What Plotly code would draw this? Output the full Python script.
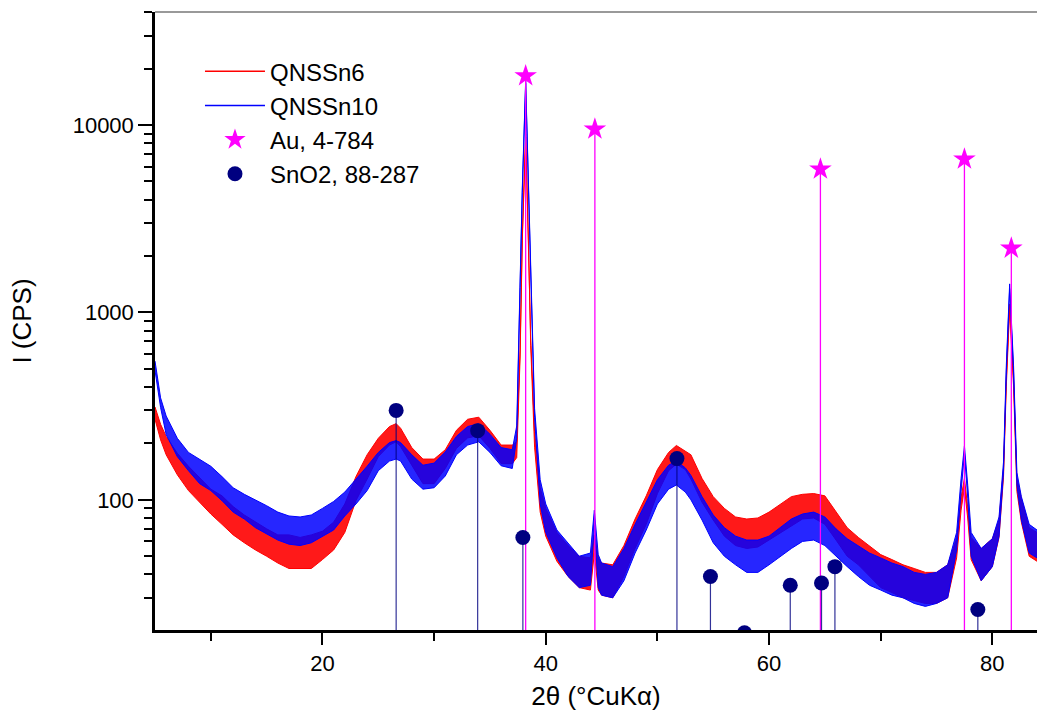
import math
import plotly.graph_objects as go

# ---- data ----
two_theta = [5.0, 5.5, 6.0, 7.0, 8.0, 9.0, 10.0, 11.0, 12.0, 13.0, 14.0, 15.0, 16.0, 17.0, 18.0,
             19.0, 20.0, 21.0, 22.0, 23.0, 24.0, 25.0, 26.0, 26.6, 27.0, 28.0, 29.0, 30.0, 31.0,
             32.0, 33.0, 34.0, 35.0, 36.0, 37.0, 37.4, 37.7, 37.9, 38.2, 38.45, 38.65, 39.0, 39.5,
             40.0, 41.0, 42.0, 43.0, 44.0, 44.35, 44.7, 45.0, 46.0, 47.0, 48.0, 49.0, 50.0, 51.0,
             51.7, 52.5, 53.0, 54.0, 55.0, 56.0, 57.0, 58.0, 59.0, 60.0, 61.0, 62.0, 63.0, 64.0,
             65.0, 66.0, 67.0, 68.0, 69.0, 70.0, 71.0, 72.0, 73.0, 74.0, 75.0, 76.0, 76.8, 77.2,
             77.5, 77.8, 78.1, 79.0, 80.0, 80.6, 81.0, 81.25, 81.55, 81.9, 82.2, 82.6, 83.3, 84.0]

# QNSSn6 (red): lower / upper edge of the noisy trace band
sn6_low = [269, 209, 174, 136, 112, 97, 84, 74, 65, 59, 54, 50, 46, 43, 43,
           43, 48, 54, 67, 99, 129, 170, 196, 204, 192, 152, 122, 122, 147,
           188, 214, 220, 188, 156, 156, 168, 571, 2430, 8630, 2430, 667, 191, 86,
           64, 47, 39, 34, 33, 52, 33, 31, 30, 39, 55, 74, 108, 143,
           155, 145, 129, 97, 78, 64, 57, 55, 56, 61, 67, 73, 79, 80,
           74, 61, 50, 45, 39, 34, 32, 30, 29, 28, 28, 30, 49, 88,
           116, 79, 48, 37, 44, 63, 132, 404, 1050, 404, 111, 76, 50, 47]
sn6_high = [313, 253, 218, 177, 151, 131, 114, 105, 92, 83, 76, 70, 65, 65, 63,
            65, 68, 76, 95, 133, 174, 213, 246, 255, 241, 190, 165, 165, 185,
            235, 269, 276, 235, 196, 196, 204, 630, 2580, 8980, 2580, 735, 231, 116,
            90, 67, 57, 50, 49, 65, 49, 46, 45, 57, 79, 105, 145, 179,
            195, 181, 174, 130, 104, 90, 81, 79, 80, 86, 95, 104, 107, 108,
            105, 86, 71, 63, 57, 51, 48, 45, 43, 41, 41, 45, 62, 103,
            130, 92, 63, 55, 62, 78, 148, 437, 1110, 437, 130, 102, 71, 67]

# QNSSn10 (blue)
sn10_low = [490, 311, 223, 170, 143, 122, 112, 99, 86, 79, 71, 66, 61, 58, 57,
            59, 64, 69, 82, 95, 112, 143, 161, 165, 161, 129, 114, 116, 134,
            174, 196, 204, 179, 152, 147, 213, 1360, 4370, 16700, 4370, 1410, 274, 95,
            67, 49, 39, 34, 35, 73, 34, 31, 30, 37, 52, 69, 95, 114,
            120, 110, 100, 78, 59, 50, 45, 41, 41, 45, 50, 55, 60, 61,
            57, 50, 44, 39, 35, 33, 31, 30, 28, 27, 28, 30, 54, 111,
            176, 102, 50, 37, 44, 64, 141, 480, 1340, 480, 120, 78, 52, 49]
sn10_high = [550, 350, 280, 213, 179, 165, 151, 133, 116, 107, 100, 93, 86, 82, 81,
             83, 90, 98, 110, 128, 151, 179, 202, 207, 202, 174, 153, 157, 180,
             218, 246, 255, 224, 190, 185, 248, 1440, 4630, 17300, 4630, 1490, 307, 128,
             95, 69, 59, 50, 52, 88, 51, 46, 44, 55, 74, 98, 128, 153,
             161, 148, 135, 104, 83, 71, 64, 61, 61, 64, 71, 79, 84, 86,
             81, 70, 62, 57, 52, 49, 46, 44, 41, 40, 41, 45, 67, 130,
             194, 119, 67, 55, 62, 81, 159, 520, 1420, 520, 140, 104, 74, 69]

# reference patterns
au_pos = [38.2, 44.4, 64.6, 77.5, 81.7]
au_int = [18300, 9500, 5820, 6580, 2200]
sno2_pos = [26.6, 33.9, 37.95, 51.75, 54.75, 57.8, 61.9, 64.7, 65.9, 78.7]
sno2_int = [300, 234, 63, 166, 39, 19.5, 35, 36, 44, 26]

y_min, y_max = 20.2, 40100
x_min, x_max = 5, 84

RED = "#FF0000"
BLUE = "#0000FF"
MAGENTA = "#FF00FF"
NAVY = "#000080"
FONT = "Arial, Liberation Sans, sans-serif"


def stems(xs, ys):
    sx, sy = [], []
    for x, y in zip(xs, ys):
        sx += [x, x, None]
        sy += [y_min / 10, y, None]
    return sx, sy


fig = go.Figure()

# noisy bands
for low, high, col, fillc in [(sn6_low, sn6_high, RED, "rgba(255,0,0,0.9)"),
                              (sn10_low, sn10_high, BLUE, "rgba(0,0,255,0.85)")]:
    fig.add_trace(go.Scatter(x=two_theta, y=low, mode="lines",
                             line=dict(color=col, width=1), showlegend=False, hoverinfo="skip"))
    fig.add_trace(go.Scatter(x=two_theta, y=high, mode="lines", fill="tonexty",
                             fillcolor=fillc, line=dict(color=col, width=1),
                             showlegend=False, hoverinfo="skip"))

# stems
ax, ay = stems(au_pos, au_int)
fig.add_trace(go.Scatter(x=ax, y=ay, mode="lines", line=dict(color=MAGENTA, width=1.3),
                         showlegend=False, hoverinfo="skip"))
sx, sy = stems(sno2_pos, sno2_int)
fig.add_trace(go.Scatter(x=sx, y=sy, mode="lines", line=dict(color=NAVY, width=1.2),
                         opacity=0.8, showlegend=False, hoverinfo="skip"))

# legend entries for the measured patterns
fig.add_trace(go.Scatter(x=[None], y=[None], mode="lines", name="QNSSn6",
                         line=dict(color=RED, width=1.5)))
fig.add_trace(go.Scatter(x=[None], y=[None], mode="lines", name="QNSSn10",
                         line=dict(color=BLUE, width=1.5)))

# markers
fig.add_trace(go.Scatter(x=au_pos, y=au_int, mode="markers", name="Au, 4-784",
                         marker=dict(symbol="star", size=17, color=MAGENTA,
                                     line=dict(width=0))))
fig.add_trace(go.Scatter(x=sno2_pos, y=sno2_int, mode="markers", name="SnO2, 88-287",
                         marker=dict(symbol="circle", size=15, color=NAVY,
                                     line=dict(width=0))))

y_minor = [m * 10 ** e for e in range(1, 5) for m in range(2, 10)]

fig.update_layout(
    width=1037, height=715,
    margin=dict(l=155, r=0, t=12, b=85),
    paper_bgcolor="white", plot_bgcolor="white",
    font=dict(family=FONT, size=22, color="black"),
    showlegend=True,
    legend=dict(x=0.051, y=0.94, xanchor="left", yanchor="top",
                bgcolor="rgba(0,0,0,0)", font=dict(size=24, family=FONT),
                itemwidth=60, traceorder="normal"),
    xaxis=dict(range=[x_min, x_max], showgrid=False, zeroline=False,
               showline=True, linecolor="black", linewidth=2.5,
               ticks="outside", ticklen=12, tickwidth=2, tickcolor="black",
               tickvals=[20, 40, 60, 80], tickfont=dict(size=22),
               minor=dict(ticks="outside", ticklen=8, tickwidth=2, tickcolor="black",
                          tickvals=[10, 30, 50, 70]),
               title=dict(text="2θ (°CuKα)", font=dict(size=26), standoff=12)),
    yaxis=dict(type="log", range=[math.log10(y_min), math.log10(y_max)],
               showgrid=False, zeroline=False,
               showline=True, linecolor="black", linewidth=2.5,
               ticks="outside", ticklen=14, tickwidth=2, tickcolor="black",
               tickvals=[100, 1000, 10000], ticktext=["100", "1000", "10000"],
               tickfont=dict(size=22),
               minor=dict(ticks="outside", ticklen=8, tickwidth=2, tickcolor="black",
                          tickvals=y_minor),
               title=dict(text="I (CPS)", font=dict(size=26), standoff=34)),
    shapes=[dict(type="line", xref="paper", yref="paper", x0=0, x1=1, y0=1, y1=1,
                 line=dict(color="#777777", width=1.5))],
)

fig.write_html("out.html", config={"displayModeBar": False},
               post_script="document.body.style.margin='0px';")
